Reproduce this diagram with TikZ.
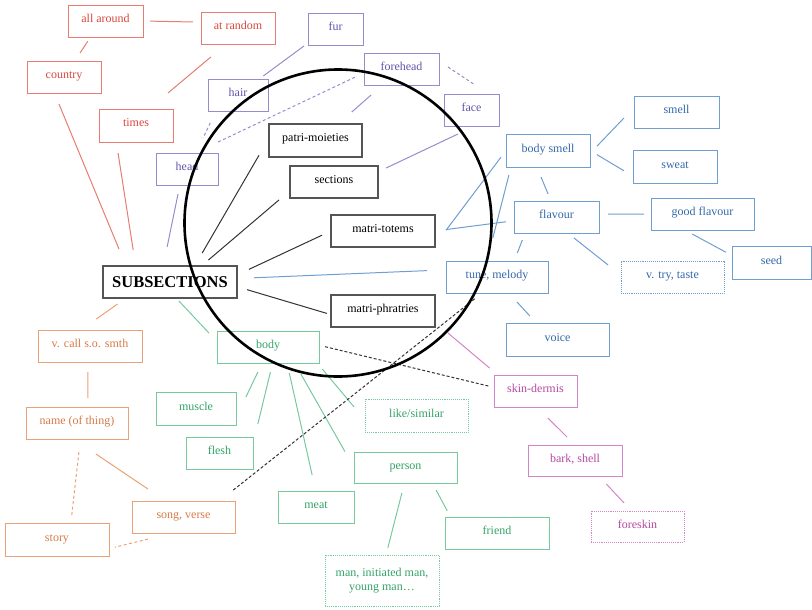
\documentclass[tikz,border=0pt]{standalone}
\usepackage{fontspec}
\setmainfont{Liberation Serif}
\newcommand\nodefont{\fontsize{12}{13.5}\selectfont}
\definecolor{redt}{RGB}{214,72,60}
\definecolor{redb}{RGB}{230,125,112}
\definecolor{purt}{RGB}{98,84,170}
\definecolor{purb}{RGB}{150,140,205}
\definecolor{blut}{RGB}{52,104,170}
\definecolor{blub}{RGB}{110,158,210}
\definecolor{grnt}{RGB}{52,162,102}
\definecolor{grnb}{RGB}{120,200,158}
\definecolor{orat}{RGB}{214,122,72}
\definecolor{orab}{RGB}{232,162,118}
\definecolor{pnkt}{RGB}{182,72,162}
\definecolor{pnkb}{RGB}{212,132,200}
\definecolor{blkb}{RGB}{85,85,85}
\tikzset{
  bx/.style={rectangle, draw, inner sep=0pt, outer sep=0pt, minimum height=32pt, line width=0.9pt, font=\nodefont, align=center},
  txtup/.style={text height=8.5pt, text depth=5.5pt},
  rbox/.style={bx, txtup, draw=redb, text=redt},
  pbox/.style={bx, txtup, draw=purb, text=purt},
  bbox/.style={bx, txtup, draw=blub, text=blut},
  gbox/.style={bx, txtup, draw=grnb, text=grnt},
  obox/.style={bx, txtup, draw=orab, text=orat},
  mbox/.style={bx, txtup, draw=pnkb, text=pnkt},
  kbox/.style={bx, draw=blkb, text=black, line width=1.1pt},
  kboxup/.style={kbox, txtup},
  dotbox/.style={densely dotted},
  g/.style 2 args={shorten <=#1pt, shorten >=#2pt},
  ln/.style={line width=1pt},
  redl/.style={ln, draw=redb},
  purl/.style={ln, draw=purb},
  blul/.style={ln, draw=blub},
  grnl/.style={ln, draw=grnb},
  oral/.style={ln, draw=orab},
  pnkl/.style={ln, draw=pnkb},
  blkl/.style={ln, draw=black!80},
  blkd/.style={ln, draw=black!80, dash pattern=on 3pt off 2pt},
  dsh/.style={dash pattern=on 3pt off 2.5pt},
}
\begin{document}
\begin{tikzpicture}[x=1pt, y=-1pt]
\useasboundingbox (0,0) rectangle (812,610);
% red group
\node[rbox, minimum width=75pt] (aa) at (105.5,21) {all around};
\node[rbox, minimum width=74pt] (ar) at (238,28) {at random};
\node[rbox, minimum width=74pt] (co) at (64,77) {country};
\node[rbox, minimum width=74pt, minimum height=33pt] (ti) at (136,125.5) {times};
% purple group
\node[pbox, minimum width=55pt] (fur) at (335.5,29) {fur};
\node[pbox, minimum width=60pt] (hair) at (238,95) {hair};
\node[pbox, minimum width=75pt] (fh) at (401.5,69) {forehead};
\node[pbox, minimum width=55pt] (face) at (471.5,110) {face};
\node[pbox, minimum width=62pt] (head) at (187,169) {head};
% black group
\node[kboxup, minimum width=93pt, minimum height=33pt] (pm) at (315.5,140.5) {patri-moieties};
\node[kboxup, minimum width=88pt] (sec) at (334,182) {sections};
\node[kboxup, minimum width=104pt] (mt) at (383,231) {matri-totems};
\node[kbox, minimum width=134pt, font=\fontsize{16.5}{18}\selectfont\bfseries] (sub) at (170,282) {SUBSECTIONS};
\node[kboxup, minimum width=104pt] (mp) at (383,311) {matri-phratries};
% blue group
\node[bbox, minimum width=84pt, minimum height=33pt] (bs) at (548,150.5) {body smell};
\node[bbox, minimum width=85pt] (sm) at (676.5,112) {smell};
\node[bbox, minimum width=84pt, minimum height=33pt] (sw) at (675,166.5) {sweat};
\node[bbox, minimum width=85pt] (fl) at (556.5,217) {flavour};
\node[bbox, minimum width=103pt] (gf) at (702.5,214) {good flavour};
\node[bbox, minimum width=79pt, minimum height=33pt] (seed) at (771.5,262.5) {seed};
\node[bbox, dotbox, minimum width=103pt] (vt) at (672.5,277) {v. try, taste};
\node[bbox, minimum width=102pt] (tm) at (497,277) {tune, melody};
\node[bbox, minimum width=103pt, minimum height=33pt] (voice) at (557.5,339.5) {voice};
% pink group
\node[mbox, minimum width=83pt] (skin) at (535.5,391) {skin-dermis};
\node[mbox, minimum width=94pt, minimum height=31pt] (bark) at (575,460.5) {bark, shell};
\node[mbox, dotbox, minimum width=93pt, minimum height=31pt] (fore) at (637.5,526.5) {foreskin};
% green group
\node[gbox, minimum width=102pt] (body) at (268,347) {body};
\node[gbox, minimum width=80pt, minimum height=33pt] (mus) at (196,408.5) {muscle};
\node[gbox, minimum width=67pt] (flesh) at (219.5,453) {flesh};
\node[gbox, dotbox, minimum width=103pt, minimum height=33pt] (like) at (416.5,415.5) {like/similar};
\node[gbox, minimum width=103pt, minimum height=31pt] (per) at (405.5,467.5) {person};
\node[gbox, minimum width=76pt] (meat) at (316,507) {meat};
\node[gbox, minimum width=104pt] (friend) at (497,533) {friend};
\node[bx, draw=grnb, text=grnt, dotbox, minimum width=114pt, minimum height=51pt] (man) at (382,580.5) {man, initiated man,\\young man…};
% orange group
\node[obox, minimum width=104pt] (vc) at (90,346) {v. call s.o. smth};
\node[obox, minimum width=102pt] (name) at (77,423) {name (of thing)};
\node[obox, minimum width=103pt] (song) at (183.5,517) {song, verse};
\node[obox, minimum width=104pt, minimum height=33pt] (story) at (57,539.5) {story};
% red connectors
\draw[redl, g={7}{8}] (aa.east) -- (ar.171);
\draw[redl, g={5}{9.6}] (aa.227) -- (co.56);
\draw[redl, g={20.2}{24.9}] (ar.234) -- (ti.52);
\draw[redl, g={11.9}{18.3}] (co.239) -- (sub.160);
\draw[redl, g={11.1}{16.2}] (ti.220) -- (sub.155);
% purple connectors
\draw[purl, g={5}{5.1}] (fur.207) -- (hair.37);
\draw[purl, dsh, g={13.2}{16.6}] (hair.216) -- (head.61);
\draw[purl, dsh, g={25.7}{10}] (head.64) -- (fh.186);
\draw[purl, g={15}{18}] (fh.220) -- (pm.36);
\draw[purl, dsh, g={10.8}{16.2}] (fh.12) -- (face.43);
\draw[purl, g={18.7}{8.9}] (face.282) -- (sec.13);
\draw[purl, g={9.2}{19.4}] (head.246) -- (sub.113);
% black connectors
\draw[blkl, g={15}{19.9}] (sub.33) -- (pm.177);
\draw[blkl, g={9.2}{14.5}] (sub.27) -- (sec.191);
\draw[blkl, g={13.2}{9.9}] (sub.6) -- (mt.180);
\draw[blkl, g={10.4}{4.2}] (sub.356) -- (mp.184);
% blue connectors
\draw[blul, g={17}{19}] (sub.3) -- (tm.172);
\draw[blul, g={10.1}{14.4}] (bs.356) -- (sm.174);
\draw[blul, g={8.1}{10.5}] (bs.east) -- (sw.193);
\draw[blul, g={10.8}{7.6}] (bs.236) -- (fl.109);
\draw[blul, g={18.3}{8.3}] (mt.345) -- (bs.west);
\draw[blul, g={11.1}{8.1}] (mt.east) -- (fl.185);
\draw[blul, g={8.3}{23.7}] (bs.204) -- (tm.122);
\draw[blul, g={7.5}{8.6}] (fl.207) -- (tm.43);
\draw[blul, g={9}{7}] (fl.4) -- (gf.west);
\draw[blul, g={8}{16.6}] (fl.305) -- (vt.178);
\draw[blul, g={8.6}{6.8}] (gf.222) -- (seed.170);
\draw[blul, g={12.3}{9.6}] (tm.306) -- (voice.142);
% pink connectors
\draw[pnkl, g={17.1}{10.7}] (mp.348) -- (skin.157);
\draw[pnkl, g={15.6}{11.3}] (skin.275) -- (bark.north);
\draw[pnkl, g={11}{11}] (bark.327) -- (fore.111);
% green connectors
\draw[grnl, g={4.1}{11.7}] (sub.291) -- (body.174);
\draw[grnl, g={10}{23}] (body.250) -- (mus.347);
\draw[grnl, g={9.3}{20.6}] (body.286) -- (flesh.15);
\draw[grnl, g={10.3}{16.4}] (body.320) -- (meat.91);
\draw[grnl, g={12.6}{18.4}] (body.329) -- (per.west);
\draw[grnl, g={7.9}{17.1}] (body.342) -- (like.185);
\draw[grnl, g={10.3}{7.2}] (per.266) -- (man.81);
\draw[grnl, g={8.1}{6.9}] (per.330) -- (friend.161);
% orange connectors
\draw[oral, g={10.3}{18.9}] (sub.200) -- (vc.120);
\draw[oral, g={10}{9}] (vc.263) -- (name.56);
\draw[oral, dsh, g={13.1}{8}] (name.282) -- (story.50);
\draw[oral, g={26.9}{21.5}] (name.258) -- (song.138);
\draw[oral, dsh, g={25.5}{6.2}] (song.236) -- (story.350);
% black dashed connectors
\draw[blkd, g={17.7}{8}] (song.24) -- (tm.227);
\draw[blkd, g={6.2}{5.1}] (body.2) -- (skin.175);
% the big circle
\node[circle, draw=black, line width=2.6pt, minimum size=307pt, inner sep=0pt] (ring) at (338,223) {};
\end{tikzpicture}
\end{document}
